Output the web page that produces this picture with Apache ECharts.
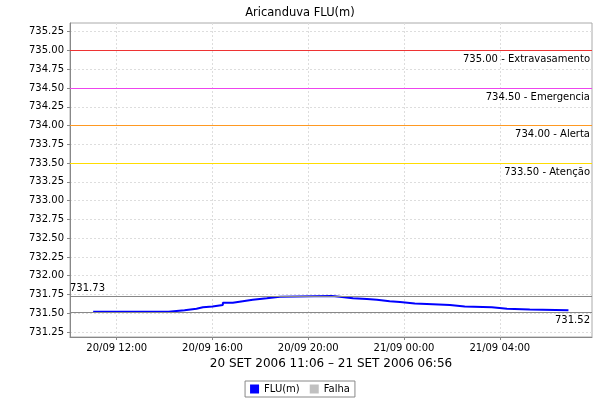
<!DOCTYPE html>
<html><head><meta charset="utf-8">
<script src="https://cdn.jsdelivr.net/npm/echarts@6/dist/echarts.min.js"></script>
<style>html,body{margin:0;padding:0;background:#fff}#c{width:600px;height:400px}</style>
</head><body><div id="c"></div>
<script>
// Data (times as "day HH:MM", September 2006)
const times = ["20 11:01","20 14:10","20 14:50","20 15:20","20 15:36","20 16:00","20 16:26","20 16:51","20 17:16","20 17:41","20 18:16","20 18:49","20 20:59","20 21:19","20 21:52","20 22:27","20 22:52","20 23:24","20 23:50","21 00:27","21 01:12","21 01:55","21 02:32","21 03:40","21 04:18","21 05:15","21 06:52"];
const levels = [731.52,731.54,731.56,731.58,731.59,731.61,731.64,731.66,731.68,731.70,731.72,731.73,731.72,731.70,731.69,731.68,731.66,731.65,731.63,731.62,731.61,731.59,731.58,731.56,731.55,731.54,731.54];
const yTicks = [731.25,731.50,731.75,732.00,732.25,732.50,732.75,733.00,733.25,733.50,733.75,734.00,734.25,734.50,734.75,735.00,735.25];
const xTickTimes = ["20 12:00","20 16:00","20 20:00","21 00:00","21 04:00"];
const thresholds = [735.00,734.50,734.00,733.50];
const thresholdNames = ["Extravasamento","Emergencia","Alerta","Atenção"];
const thresholdColors = ["#ee3333","#ee44ee","#ff9922","#ffdd00"];
const maxValue = 731.73, minValue = 731.52;
const xRange = ["20 10:03","21 07:51"];
const yRange = [731.184,735.366];
const titleText = "Aricanduva FLU(m)";
const axisName = "20 SET 2006 11:06 – 21 SET 2006 06:56";

function t(s){const d=+s.slice(0,2),h=+s.slice(3,5),m=+s.slice(6,8);return Date.UTC(2006,8,d,h,m);}
function p2(n){return (n<10?'0':'')+n;}
const data = times.map((s,i)=>[t(s),levels[i]]);
const FONT = 'DejaVu Sans';

const markData = thresholds.map((v,i)=>({yAxis:v,lineStyle:{color:thresholdColors[i],width:1,type:'solid'},
  label:{formatter:v.toFixed(2)+' - '+thresholdNames[i],position:'insideEndBottom',color:'#000',fontFamily:FONT,fontSize:10,distance:[2,4]}}));
markData.push({yAxis:maxValue,lineStyle:{color:'#888',width:1,type:'solid'},label:{formatter:maxValue.toFixed(2),position:'insideStartTop',color:'#000',fontFamily:FONT,fontSize:10,distance:[0,3]}});
markData.push({yAxis:minValue,lineStyle:{color:'#888',width:1,type:'solid'},label:{formatter:minValue.toFixed(2),position:'insideEndBottom',color:'#000',fontFamily:FONT,fontSize:10,distance:[2,4]}});

const chart = echarts.init(document.getElementById('c'),null,{renderer:'canvas'});
chart.setOption({
  animation:false,
  backgroundColor:'#fff',
  title:{text:titleText,left:'center',top:2,textStyle:{fontFamily:FONT,fontSize:11.5,fontWeight:'normal',color:'#000'}},
  legend:{bottom:3,left:'center',itemWidth:9,itemHeight:9,itemGap:10,icon:'rect',
    borderColor:'#888',borderWidth:1,padding:[3,5],
    textStyle:{fontFamily:FONT,fontSize:10,color:'#000'},data:['FLU(m)','Falha']},
  grid:{left:70,right:8,top:23,bottom:63,show:true,borderColor:'#aaa',borderWidth:1,backgroundColor:'#fff'},
  xAxis:{type:'value',min:t(xRange[0]),max:t(xRange[1]),
    name:axisName,nameLocation:'middle',nameGap:21,
    nameTextStyle:{fontFamily:FONT,fontSize:12,color:'#000'},
    axisLine:{show:true,lineStyle:{color:'#888'}},
    axisTick:{show:true,length:3,lineStyle:{color:'#888'},customValues:xTickTimes.map(t)},
    axisLabel:{customValues:xTickTimes.map(t),fontFamily:FONT,fontSize:10,color:'#000',margin:6,
      formatter:v=>{const d=new Date(v);return p2(d.getUTCDate())+'/'+p2(d.getUTCMonth()+1)+' '+p2(d.getUTCHours())+':'+p2(d.getUTCMinutes());}},
    splitLine:{show:true,lineStyle:{color:'#ddd',type:[2,2]}}},
  yAxis:{type:'value',min:yRange[0],max:yRange[1],
    axisLine:{show:true,lineStyle:{color:'#888'}},
    axisTick:{show:true,length:3,lineStyle:{color:'#888'},customValues:yTicks},
    axisLabel:{customValues:yTicks,fontFamily:FONT,fontSize:10,color:'#000',margin:6,formatter:v=>v.toFixed(2)},
    splitLine:{show:true,lineStyle:{color:'#ddd',type:[2,2]}}},
  series:[
    {name:'FLU(m)',type:'line',step:'end',data:data,showSymbol:false,symbol:'rect',
     itemStyle:{color:'#0000ff'},lineStyle:{color:'#0000ff',width:2},
     markLine:{silent:true,symbol:'none',data:markData}},
    {name:'Falha',type:'line',data:[],itemStyle:{color:'#c0c0c0'}}
  ]
});
</script></body></html>
